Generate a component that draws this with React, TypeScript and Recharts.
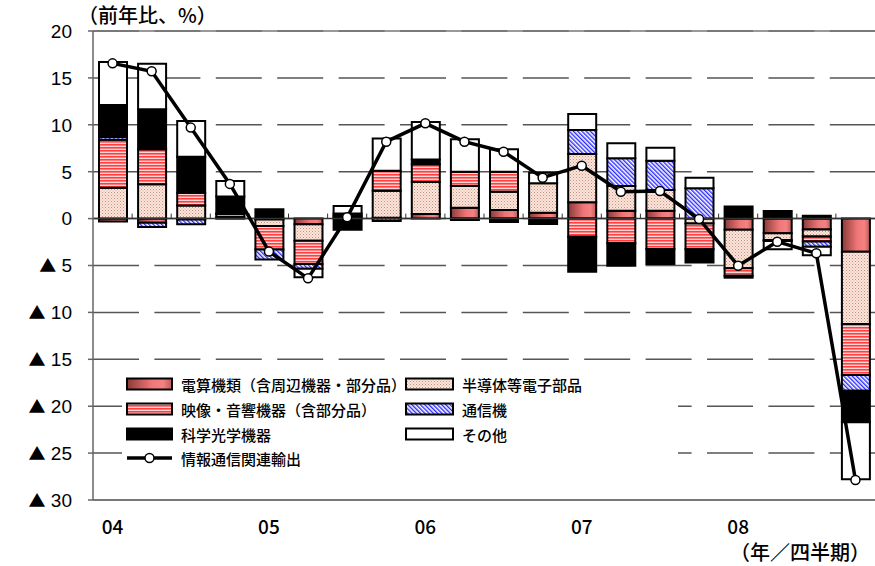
import React from "react";
import {
  ComposedChart,
  Bar,
  Line,
  XAxis,
  YAxis,
  CartesianGrid,
  ReferenceLine,
} from "recharts";

// 2004Q1 .. 2008Q4, contributions to y/y change (%pt)
const quarters = [
  "04Q1", "04Q2", "04Q3", "04Q4",
  "05Q1", "05Q2", "05Q3", "05Q4",
  "06Q1", "06Q2", "06Q3", "06Q4",
  "07Q1", "07Q2", "07Q3", "07Q4",
  "08Q1", "08Q2", "08Q3", "08Q4",
];
const computerParts = [-0.3, -0.45, -0.1, 0.2, -0.1, -0.6, 0.2, 0.1, 0.5, 1.16, 0.92, 0.63, 1.74, 0.84, 0.84, 0, -1.2, -1.57, -1.15, -3.53];
const semiconductors = [3.3, 3.65, 1.4, 0.3, -0.7, -1.75, 0.15, 2.87, 3.4, 2.32, 1.95, 3.13, 5.15, 2.64, 2.21, -0.53, -4.1, -0.71, -0.75, -7.71];
const audioVisual = [5.1, 3.75, 1.35, 0.05, -2.5, -2.5, 0.2, 2.13, 1.9, 1.52, 2.13, 0, -1.93, -2.64, -3.24, -2.73, -0.8, -0.1, -0.55, -5.43];
const telecom = [0.3, -0.45, -0.5, 0, -1.05, -0.5, 0, -0.25, 0, 0, 0, 0, 2.56, 2.95, 3.12, 3.23, 0, 0, -0.55, -1.68];
const optical = [3.4, 4.25, 3.85, 1.8, 1.0, 0, -1.2, 0, 0.5, -0.15, -0.35, -0.58, -3.73, -2.38, -1.6, -1.42, 1.3, 0.8, 0.3, -3.37];
const others = [4.6, 4.85, 3.8, 1.65, 0, -0.9, 0.8, 3.45, 4.0, 3.45, 2.39, 1.14, 1.7, 1.6, 1.39, 1.13, -0.2, -0.9, -0.9, -6.08];
const ictExports = [16.55, 15.7, 9.7, 3.7, -3.5, -6.37, 0.14, 8.2, 10.16, 8.2, 7.13, 4.36, 5.64, 2.87, 2.94, -0.04, -5.02, -2.46, -3.7, -27.87];

const yTicks = [20, 15, 10, 5, 0, -5, -10, -15, -20, -25, -30];

const chartData = quarters.map((q, i) => ({
  quarter: q,
  computer: computerParts[i],
  semi: semiconductors[i],
  av: audioVisual[i],
  telecom: telecom[i],
  optical: optical[i],
  other: others[i],
  total: ictExports[i],
}));

const JP_FONT = '"Noto Sans CJK JP", sans-serif';
const NUM_FONT = '"Liberation Sans", Arial, sans-serif';

const formatX = (q: string) => (q.endsWith("Q1") ? q.slice(0, 2) : "");

// negative values are written with a ▲ in front, Japanese style
function YTick(props: any) {
  const { x, y, payload } = props;
  const v = payload.value as number;
  return (
    <text x={x} y={y} dy="0.36em" textAnchor="end" fill="#000" fontFamily={NUM_FONT} fontSize={19}>
      {v < 0 ? (
        <>
          <tspan fontFamily={JP_FONT} fontSize={17}>▲</tspan>
          <tspan> {-v}</tspan>
        </>
      ) : (
        `${v}`
      )}
    </text>
  );
}

// fills shared by the chart and the legend swatches
function Fills({ prefix }: { prefix: string }) {
  return (
    <defs>
      <linearGradient id={`${prefix}-computer`} x1="0" y1="0" x2="1" y2="0">
        <stop offset="0%" stopColor="#8a3a3a" />
        <stop offset="55%" stopColor="#f07676" />
        <stop offset="80%" stopColor="#f48282" />
        <stop offset="100%" stopColor="#c05a5a" />
      </linearGradient>
      <pattern id={`${prefix}-semi`} width="3" height="3" patternUnits="userSpaceOnUse">
        <rect width="3" height="3" fill="#fbe6dc" />
        <rect x="0" y="0" width="1" height="1" fill="#c8907c" />
        <rect x="1.5" y="1.5" width="1" height="1" fill="#d8a898" />
      </pattern>
      <pattern id={`${prefix}-av`} width="4" height="3" patternUnits="userSpaceOnUse">
        <rect width="4" height="3" fill="#ffd4d4" />
        <rect width="4" height="1.6" fill="#ff4040" />
      </pattern>
      <pattern
        id={`${prefix}-telecom`}
        width="3"
        height="3"
        patternUnits="userSpaceOnUse"
        patternTransform="rotate(-45)"
      >
        <rect width="3" height="3" fill="#ffffff" />
        <rect width="1.4" height="3" fill="#2a2aff" />
      </pattern>
    </defs>
  );
}

function ZeroAxis(props: any) {
  const { x1, x2, y1 } = props;
  const n = quarters.length;
  const step = (x2 - x1) / n;
  return (
    <g>
      <line x1={x1} x2={x2} y1={y1} y2={y1} stroke="#333" strokeWidth={1.5} />
      {quarters.slice(1).map((q, i) => (
        <line
          key={q}
          x1={x1 + (i + 1) * step}
          x2={x1 + (i + 1) * step}
          y1={y1}
          y2={y1 - 5}
          stroke="#333"
          strokeWidth={1}
        />
      ))}
    </g>
  );
}

const legendItems = [
  { key: "computer", label: "電算機類（含周辺機器・部分品）", col: 0, row: 0 },
  { key: "semi", label: "半導体等電子部品", col: 1, row: 0 },
  { key: "av", label: "映像・音響機器（含部分品）", col: 0, row: 1 },
  { key: "telecom", label: "通信機", col: 1, row: 1 },
  { key: "optical", label: "科学光学機器", col: 0, row: 2 },
  { key: "other", label: "その他", col: 1, row: 2 },
];

const legendFill: Record<string, string> = {
  computer: "url(#lg-computer)",
  semi: "url(#lg-semi)",
  av: "url(#lg-av)",
  telecom: "url(#lg-telecom)",
  optical: "#000000",
  other: "#ffffff",
};

function ChartLegend() {
  const rowY = [18, 43, 68, 92];
  const colX = [5, 284];
  const swW = [45, 47];
  return (
    <svg
      width={556}
      height={104}
      style={{ position: "absolute", left: 122, top: 366 }}
    >
      <Fills prefix="lg" />
      <rect width={556} height={104} fill="#fff" />
      {legendItems.map((it) => (
        <g key={it.key}>
          <rect
            x={colX[it.col]}
            y={rowY[it.row] - 5.5}
            width={swW[it.col]}
            height={11}
            fill={legendFill[it.key]}
            stroke="#000"
            strokeWidth={2}
          />
          <text
            x={colX[it.col] + swW[it.col] + 9}
            y={rowY[it.row]}
            dominantBaseline="central"
            fontFamily={JP_FONT}
            fontWeight={500}
            fontSize={15}
            fill="#000"
          >
            {it.label}
          </text>
        </g>
      ))}
      <line x1={5} x2={50} y1={rowY[3]} y2={rowY[3]} stroke="#000" strokeWidth={3.5} />
      <circle cx={27.5} cy={rowY[3]} r={4.5} fill="#fff" stroke="#000" strokeWidth={1.5} />
      <text
        x={59}
        y={rowY[3]}
        dominantBaseline="central"
        fontFamily={JP_FONT}
        fontWeight={500}
        fontSize={15}
        fill="#000"
      >
        情報通信関連輸出
      </text>
    </svg>
  );
}

export default function App() {
  return (
    <div
      style={{
        position: "absolute",
        left: 0,
        top: 0,
        width: 875,
        height: 566,
        background: "#fff",
      }}
    >
      <ComposedChart
        width={875}
        height={566}
        data={chartData}
        stackOffset="sign"
        barSize={28}
        margin={{ top: 31, right: 0, left: 0, bottom: 36 }}
      >
        <Fills prefix="ch" />
        <CartesianGrid
          vertical={false}
          stroke="#555"
          strokeWidth={1.5}
          strokeDasharray="46 15.4"
        />
        <XAxis
          dataKey="quarter"
          interval={0}
          axisLine={false}
          tickLine={false}
          tickSize={0}
          tickMargin={21}
          height={30}
          tickFormatter={formatX}
          tick={{ fontSize: 19, fill: "#000", fontFamily: JP_FONT, fontWeight: 500 }}
        />
        <YAxis
          domain={[-30, 20]}
          ticks={yTicks}
          interval={0}
          width={93}
          tickSize={5}
          tickMargin={16}
          axisLine={{ stroke: "#666", strokeWidth: 1.5 }}
          tickLine={{ stroke: "#666", strokeWidth: 1.5 }}
          tick={<YTick />}
        />
        <ReferenceLine y={20} stroke="#777" strokeWidth={1.5} />
        <ReferenceLine y={-30} stroke="#777" strokeWidth={2} />
        <Bar dataKey="computer" stackId="a" fill="url(#ch-computer)" stroke="#000" strokeWidth={2} isAnimationActive={false} />
        <Bar dataKey="semi" stackId="a" fill="url(#ch-semi)" stroke="#000" strokeWidth={2} isAnimationActive={false} />
        <Bar dataKey="av" stackId="a" fill="url(#ch-av)" stroke="#000" strokeWidth={2} isAnimationActive={false} />
        <Bar dataKey="telecom" stackId="a" fill="url(#ch-telecom)" stroke="#000" strokeWidth={2} isAnimationActive={false} />
        <Bar dataKey="optical" stackId="a" fill="#000" stroke="#000" strokeWidth={2} isAnimationActive={false} />
        <Bar dataKey="other" stackId="a" fill="#fff" stroke="#000" strokeWidth={2} isAnimationActive={false} />
        <ReferenceLine y={0} shape={<ZeroAxis />} />
        <Line
          type="linear"
          dataKey="total"
          stroke="#000"
          strokeWidth={3.5}
          dot={{ r: 4.5, fill: "#fff", stroke: "#000", strokeWidth: 1.5 }}
          activeDot={false}
          isAnimationActive={false}
        />
      </ComposedChart>
      <ChartLegend />
      <div
        style={{
          position: "absolute",
          left: 78,
          top: 4,
          fontFamily: JP_FONT,
          fontWeight: 500,
          fontSize: 20,
          lineHeight: "22px",
          color: "#000",
          whiteSpace: "nowrap",
        }}
      >
        （前年比、%）
      </div>
      <div
        style={{
          position: "absolute",
          left: 730,
          top: 541,
          fontFamily: JP_FONT,
          fontWeight: 500,
          fontSize: 20,
          lineHeight: "22px",
          color: "#000",
          whiteSpace: "nowrap",
        }}
      >
        （年／四半期）
      </div>
    </div>
  );
}
